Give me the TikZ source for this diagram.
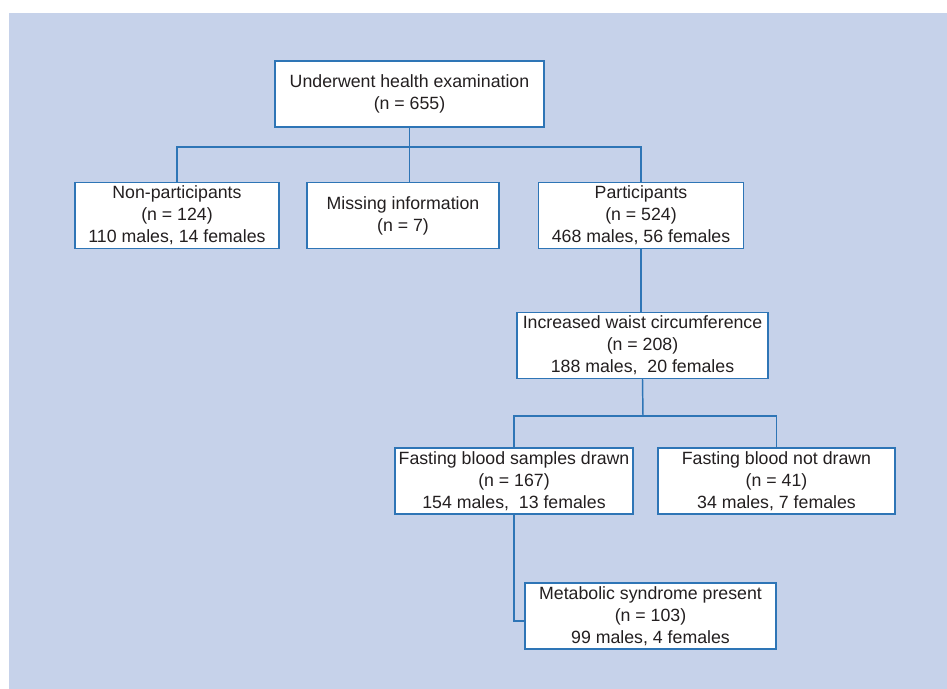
\documentclass[tikz,border=0pt]{standalone}
\usepackage{fontspec}
\setmainfont{Liberation Sans}
\usepackage{xcolor}
\usetikzlibrary{positioning}

\definecolor{panelblue}{RGB}{198,210,234}
\definecolor{lineblue}{RGB}{46,117,182}
\definecolor{textgray}{RGB}{35,31,32}

\begin{document}
\begin{tikzpicture}[x=0.75pt, y=-0.75pt]
            % Block style
            \tikzstyle{block} = [rectangle, draw=lineblue, line width=1.1pt, fill=white, text=textgray, align=center, inner sep=0pt, minimum height=49.5pt, font=\fontsize{13.3}{16.5}\selectfont]
            \tikzstyle{link} = [draw=lineblue, line width=1.1pt]

            % Panel
            \useasboundingbox (0,0) rectangle (947,689);
            \fill[panelblue] (9,13) rectangle (947,689);

            % Top row
            \node[block, minimum width=201.75pt] (exam) at (409.5,94) {Underwent health examination\\(n = 655)};

            % Second row
            \node[block, minimum width=153pt] (nonpart) at (177,215.5) {Non-participants\\(n = 124)\\110 males, 14 females};
            \node[block, minimum width=144pt] (missing) at (403,215.5) {Missing information\\(n = 7)};
            \node[block, minimum width=153.75pt] (part) at (641,215.5) {Participants\\(n = 524)\\468 males, 56 females};

            % Waist and blood samples
            \node[block, minimum width=188.25pt] (waist) at (642.5,345.5) {Increased waist circumference\\(n = 208)\\188 males,\ \ 20 females};
            \node[block, minimum width=178.5pt] (drawn) at (514,481) {Fasting blood samples drawn\\(n = 167)\\154 males,\ \ 13 females};
            \node[block, minimum width=177.75pt] (notdrawn) at (776.5,481) {Fasting blood not drawn\\(n = 41)\\34 males, 7 females};
            \node[block, minimum width=188.25pt] (metab) at (650.5,616) {Metabolic syndrome present\\(n = 103)\\99 males, 4 females};

            % Connections
            \coordinate (split) at (409.5,147);
            \coordinate (split2) at (643,416);
            \draw[link] (exam.south) -- (split);
            \draw[link] (nonpart.north) |- (split) -| (part.north);
            \draw[link] (split) -- (split |- missing.north);
            \draw[link] (part.south) -- (part.south |- waist.north);
            \draw[link] (waist.south) -- (split2);
            \draw[link] (drawn.north) |- (split2) -| (notdrawn.north);
            \draw[link] (drawn.south) |- ([yshift=-3.75pt]metab.west);
        \end{tikzpicture}
\end{document}
